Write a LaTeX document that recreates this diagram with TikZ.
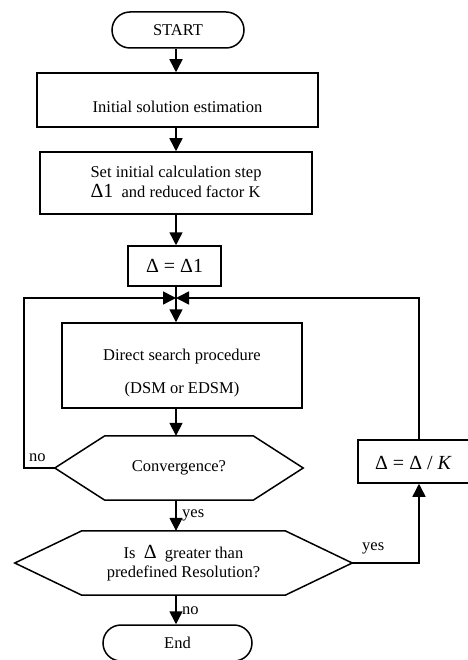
\documentclass[tikz,border=0pt]{standalone}
\usepackage{fontspec}
\setmainfont{Liberation Serif}
\usetikzlibrary{arrows.meta,calc}
\begin{document}
\begin{tikzpicture}[x=1pt,y=-1pt,
  every node/.style={font=\fontsize{16.5}{19}\selectfont, inner sep=0pt},
  big/.style={font=\fontsize{20}{23}\selectfont},
  line/.style={line width=1.5pt},
  arr/.style={line width=1.5pt,-{Triangle[length=13pt,width=13pt]}},
  box/.style={draw,line width=1.5pt,rectangle},
  term/.style={draw,line width=1.5pt,rounded corners=18pt},
  hexbox/.style={rectangle,draw=none}]
\useasboundingbox (0,0) rectangle (467,660);

% terminals and boxes
\node[term, minimum width=132pt, minimum height=36pt] (start) at (178,30) {START};
\node[box, minimum width=281pt, minimum height=54pt] (init) at (177.5,100) {};
\node (initt) at (177.5,107) {Initial solution estimation};
\node[box, minimum width=272pt, minimum height=62pt] (set) at (176,183) {};
\node[align=left] (sett) at (176,182) {Set initial calculation step\\[1pt]{\fontsize{20}{23}\selectfont Δ1}\ \ and reduced factor K};
\node[box, minimum width=93pt, minimum height=40pt, big] (eq) at (174.5,266) {Δ = Δ1};
\coordinate (junc) at (176,298);
\node[box, minimum width=240pt, minimum height=85pt] (dsm) at (182,365.5) {};
\node[align=center] (dsmt) at (182,373.5) {Direct search procedure\\[14pt](DSM or EDSM)};

% hexagons
\node[hexbox, minimum width=248pt, minimum height=64pt] (conv) at (179,468) {Convergence?};
\draw[line] (conv.west) -- ($(conv.north west)+(50,0)$) -- ($(conv.north east)+(-50,0)$)
  -- (conv.east) -- ($(conv.south east)+(-50,0)$) -- ($(conv.south west)+(50,0)$) -- cycle;
\node[hexbox, minimum width=337pt, minimum height=64pt] (is) at (183.5,563) {};
\draw[line] (is.west) -- ($(is.north west)+(67,0)$) -- ($(is.north east)+(-67,0)$)
  -- (is.east) -- ($(is.south east)+(-67,0)$) -- ($(is.south west)+(67,0)$) -- cycle;
\node[align=center] (ist) at (183.5,563) {Is\ \ {\fontsize{20}{23}\selectfont Δ}\ \ greater than\\predefined Resolution?};

\node[term, minimum width=149pt, minimum height=36pt] (end) at (177.5,643) {End};
\node[box, minimum width=112pt, minimum height=43pt] (dk) at (414,461.5) {};
\node[big] (dkt) at (413.5,463) {Δ = Δ / \textit{K}};
\coordinate (rc) at (419,298);

% connectors
\draw[arr] (start.south -| junc) -- (init.north -| junc);
\draw[arr] (init.south -| junc) -- (set.north -| junc);
\draw[arr] (set.south -| junc) -- (eq.north -| junc);
\draw[line] (eq.south -| junc) -- (junc);
\draw[arr] (junc) -- (dsm.north -| junc);
\draw[arr] (dsm.south -| junc) -- (conv.north -| junc);
\draw[arr] (conv.south -| junc) -- (is.north -| junc);
\draw[arr] (is.south -| junc) -- (end.north -| junc);
\draw[arr] (conv.west) -- ++(-31,0) |- (junc);
\draw[arr] (dk.north -| rc) |- (junc);
\draw[arr] (is.east) -| (dk.south -| rc);

% labels
\node[anchor=west] (lno1) at (29,458) {no};
\node[anchor=west] (lyes1) at (182,515) {yes};
\node[anchor=west] (lno2) at (182,611) {no};
\node[anchor=west] (lyes2) at (362,548) {yes};
\end{tikzpicture}
\end{document}
